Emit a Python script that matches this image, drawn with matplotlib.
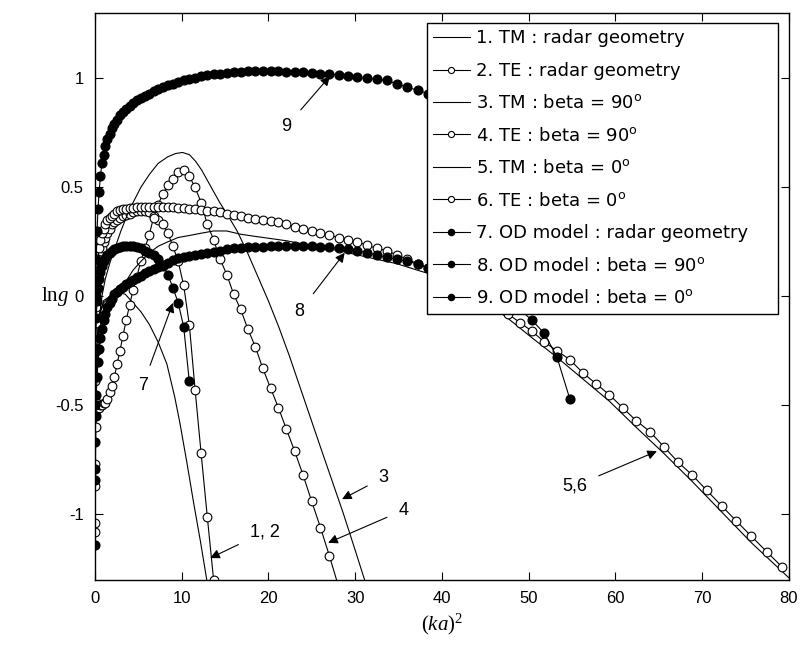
import matplotlib
matplotlib.use('Agg')
from matplotlib import pyplot as plt

plt.rcParams['font.family'] = ['Liberation Sans', 'DejaVu Sans']
plt.rcParams['mathtext.default'] = 'regular'
plt.rcParams['mathtext.fontset'] = 'custom'
plt.rcParams['mathtext.rm'] = 'Liberation Serif'
plt.rcParams['mathtext.it'] = 'Liberation Serif:italic'

# (ka)^2 sample points used by the marker curves
ka2 = [0.01, 0.04, 0.09, 0.16, 0.25, 0.36, 0.49, 0.64, 0.81, 1.0,
       1.21, 1.44, 1.69, 1.96, 2.25, 2.56, 2.89, 3.24, 3.61, 4.0,
       4.41, 4.84, 5.29, 5.76, 6.25, 6.76, 7.29, 7.84, 8.41, 9.0,
       9.61, 10.24, 10.89, 11.56, 12.25, 12.96, 13.69, 14.44, 15.21, 16.0,
       16.81, 17.64, 18.49, 19.36, 20.25, 21.16, 22.09, 23.04, 24.01, 25.0,
       26.01, 27.04, 28.09, 29.16, 30.25, 31.36, 32.49, 33.64, 34.81, 36.0,
       37.21, 38.44, 39.69, 40.96, 42.25, 43.56, 44.89, 46.24, 47.61, 49.0,
       50.41, 51.84, 53.29, 54.76, 56.25, 57.76, 59.29, 60.84, 62.41, 64.0,
       65.61, 67.24, 68.89, 70.56, 72.25, 73.96, 75.69, 77.44, 79.21]

# 1. TM radar geometry (line)
x1 = [0.01, 0.09, 0.25, 0.49, 1.0, 1.7, 2.5, 3.5, 4.4, 5.3, 6.3, 7.3, 8.3, 9.2, 9.8,
      10.6, 11.4, 12.2, 12.9]
y1 = [-1.25, -0.6, -0.25, -0.1, -0.02, 0.0, 0.02, 0.01, -0.03, -0.07, -0.13, -0.21,
      -0.31, -0.46, -0.58, -0.76, -0.95, -1.13, -1.3]
# 2. TE radar geometry (circles)
y2 = [-1.04, -0.45, -0.2, -0.05, 0.04, 0.1, 0.15, 0.19, 0.22, 0.25,
      0.27, 0.29, 0.31, 0.33, 0.34, 0.35, 0.36, 0.37, 0.375, 0.38,
      0.385, 0.39, 0.39, 0.39, 0.385, 0.37, 0.35, 0.33, 0.29, 0.23,
      0.16, 0.05, -0.13, -0.43, -0.72, -1.01, -1.3]
# 3. TM beta = 90 (line)
x3 = [0.01, 0.09, 0.25, 0.49, 0.81, 1.2, 1.7, 2.3, 3.0, 3.7, 4.4, 5.3, 6.3, 7.3, 8.4,
      9.3, 10.1, 10.9, 11.6, 12.3, 13.0, 13.7, 14.4, 15.2, 16.4, 17.6, 18.8, 20.0,
      21.2, 22.4, 23.6, 24.8, 26.0, 27.3, 28.6, 29.9, 31.1]
y3 = [-1.1, -0.55, -0.3, -0.12, 0.0, 0.08, 0.15, 0.22, 0.3, 0.37, 0.43, 0.5, 0.56,
      0.61, 0.64, 0.655, 0.66, 0.65, 0.62, 0.58, 0.53, 0.48, 0.43, 0.38, 0.30, 0.2,
      0.09, -0.02, -0.14, -0.27, -0.41, -0.55, -0.69, -0.84, -0.99, -1.15, -1.3]
# 4. TE beta = 90 (circles)
y4 = [-1.08, -0.77, -0.6, -0.52, -0.49, -0.5, -0.51, -0.5, -0.5, -0.49,
      -0.49, -0.47, -0.44, -0.41, -0.37, -0.31, -0.25, -0.18, -0.11, -0.04,
      0.03, 0.09, 0.16, 0.22, 0.28, 0.36, 0.42, 0.47, 0.51, 0.54,
      0.57, 0.58, 0.55, 0.5, 0.43, 0.33, 0.26, 0.17, 0.1, 0.01,
      -0.06, -0.15, -0.23, -0.33, -0.42, -0.51, -0.61, -0.71, -0.82, -0.94,
      -1.06, -1.19, -1.33]
# 5. TM beta = 0 (line)
x5 = [0.01, 0.09, 0.25, 0.49, 1.0, 1.5, 2.3, 2.9, 3.6, 4.4, 5.3, 6.3, 7.3, 8.4, 9.6,
      11.0, 12.3, 13.7, 15.2, 16.8, 18.5, 20.3, 22.1, 24.0, 26.0, 28.1, 30.3, 32.5,
      34.8, 37.2, 39.7, 42.3, 44.9, 47.6, 50.4, 53.3, 56.3, 59.3, 62.4, 65.6, 68.9,
      72.3, 75.7, 79.2, 80.0]
y5 = [-0.95, -0.45, -0.2, -0.08, -0.03, -0.01, 0.0, 0.03, 0.07, 0.12, 0.16, 0.2, 0.23,
      0.25, 0.27, 0.28, 0.29, 0.30, 0.30, 0.285, 0.275, 0.265, 0.255, 0.24, 0.225,
      0.21, 0.19, 0.17, 0.15, 0.12, 0.09, 0.04, -0.02, -0.10, -0.19, -0.28, -0.38,
      -0.48, -0.60, -0.72, -0.85, -0.99, -1.13, -1.26, -1.29]
# 6. TE beta = 0 (circles)
y6 = [-0.87, -0.39, -0.12, 0.02, 0.11, 0.17, 0.22, 0.26, 0.29, 0.31,
      0.33, 0.35, 0.36, 0.37, 0.38, 0.39, 0.395, 0.40, 0.40, 0.405,
      0.405, 0.41, 0.41, 0.41, 0.41, 0.41, 0.41, 0.41, 0.41, 0.41,
      0.405, 0.405, 0.40, 0.40, 0.395, 0.39, 0.39, 0.385, 0.38, 0.375,
      0.37, 0.36, 0.355, 0.35, 0.345, 0.34, 0.33, 0.32, 0.31, 0.30,
      0.29, 0.28, 0.27, 0.26, 0.25, 0.235, 0.22, 0.21, 0.19, 0.17,
      0.15, 0.13, 0.11, 0.09, 0.07, 0.04, 0.01, -0.03, -0.08, -0.12,
      -0.16, -0.21, -0.25, -0.29, -0.35, -0.40, -0.45, -0.51, -0.57, -0.62,
      -0.69, -0.76, -0.82, -0.89, -0.96, -1.03, -1.10, -1.17, -1.24]
# 7. OD model radar geometry (dots)
y7 = [-1.14, -0.5, -0.25, -0.1, -0.02, 0.04, 0.08, 0.11, 0.14, 0.16,
      0.175, 0.19, 0.2, 0.21, 0.215, 0.22, 0.225, 0.23, 0.23, 0.23,
      0.23, 0.225, 0.22, 0.21, 0.2, 0.19, 0.17, 0.14, 0.10, 0.04,
      -0.03, -0.14, -0.39]
# 8. OD model beta = 90 (dots)
y8 = [-0.84, -0.67, -0.55, -0.45, -0.37, -0.3, -0.24, -0.19, -0.15, -0.11,
      -0.08, -0.05, -0.03, -0.01, 0.01, 0.02, 0.035, 0.045, 0.055, 0.065,
      0.075, 0.085, 0.095, 0.105, 0.115, 0.125, 0.135, 0.145, 0.155, 0.165,
      0.175, 0.18, 0.185, 0.19, 0.195, 0.20, 0.205, 0.21, 0.215, 0.22,
      0.22, 0.225, 0.225, 0.225, 0.23, 0.23, 0.23, 0.23, 0.23, 0.23,
      0.225, 0.225, 0.22, 0.215, 0.21, 0.20, 0.19, 0.18, 0.17, 0.16,
      0.15, 0.13, 0.12, 0.10, 0.08, 0.06, 0.03, 0.0, -0.03, -0.06,
      -0.11, -0.17, -0.28, -0.47]
# 9. OD model beta = 0 (dots)
y9 = [-0.79, -0.3, 0.0, 0.17, 0.3, 0.4, 0.48, 0.55, 0.61, 0.65,
      0.69, 0.72, 0.745, 0.77, 0.79, 0.81, 0.83, 0.845, 0.86, 0.875,
      0.885, 0.9, 0.91, 0.92, 0.93, 0.94, 0.95, 0.96, 0.97, 0.975,
      0.985, 0.99, 0.995, 1.0, 1.01, 1.015, 1.02, 1.02, 1.025, 1.03,
      1.03, 1.035, 1.035, 1.035, 1.035, 1.035, 1.03, 1.03, 1.03, 1.025,
      1.02, 1.02, 1.015, 1.01, 1.005, 1.0, 0.995, 0.99, 0.975, 0.96,
      0.945, 0.93, 0.91, 0.89, 0.86, 0.83]

labels = ['1. TM : radar geometry', '2. TE : radar geometry',
          '3. TM : beta = 90$^{o}$', '4. TE : beta = 90$^{o}$',
          '5. TM : beta = 0$^{o}$', '6. TE : beta = 0$^{o}$',
          '7. OD model : radar geometry', '8. OD model : beta = 90$^{o}$',
          '9. OD model : beta = 0$^{o}$']

# annotation text, text position, arrow tip
notes = [('9', (22.1, 0.78), (27.1, 1.01)),
         ('8', (23.6, -0.07), (28.8, 0.20)),
         ('7', (5.5, -0.41), (9.0, -0.03)),
         ('1, 2', (19.6, -1.08), (13.3, -1.20)),
         ('3', (33.3, -0.83), (28.5, -0.93)),
         ('4', (35.6, -0.98), (26.9, -1.13)),
         ('5,6', (55.3, -0.87), (64.8, -0.71))]

fig = plt.figure(figsize=(8.04, 6.45), dpi=100)
ax = fig.add_axes([0.118, 0.101, 0.863, 0.879])

lw = 0.8
ms = 6.3
open_kw = dict(color='k', lw=lw, marker='o', ms=ms, mfc='white', mec='k', mew=0.8)
fill_kw = dict(color='k', lw=lw, marker='o', ms=ms, mfc='k', mec='k')

ax.plot(x1, y1, color='k', lw=lw, label=labels[0])
ax.plot(ka2[:len(y2)], y2, label=labels[1], **open_kw)
ax.plot(x3, y3, color='k', lw=lw, label=labels[2])
ax.plot(ka2[:len(y4)], y4, label=labels[3], **open_kw)
ax.plot(x5, y5, color='k', lw=lw, label=labels[4])
ax.plot(ka2[:len(y6)], y6, label=labels[5], **open_kw)
ax.plot(ka2[:len(y7)], y7, label=labels[6], **fill_kw)
ax.plot(ka2[:len(y8)], y8, label=labels[7], **fill_kw)
ax.plot(ka2[:len(y9)], y9, label=labels[8], **fill_kw)

for txt, xy_t, xy_h in notes:
    ax.annotate(txt, xy=xy_h, xytext=xy_t, fontsize=13, ha='center', va='center',
                arrowprops=dict(arrowstyle='-|>', color='k', lw=0.8,
                                mutation_scale=14, shrinkA=7, shrinkB=0))

ax.set_xlim(0, 80)
ax.set_ylim(-1.3, 1.3)
ax.set_xticks(range(0, 81, 10))
ax.set_yticks([-1, -0.5, 0, 0.5, 1])
ax.set_yticklabels(['-1', '-0.5', '0', '0.5', '1'])
ax.tick_params(direction='in', top=True, right=True, length=6, width=0.8,
               labelsize=12, pad=8)
for s in ax.spines.values():
    s.set_linewidth(1.0)

ax.set_xlabel(r'$\mathit{(ka)}^{\mathrm{2}}$', fontsize=15, labelpad=4)
ax.set_ylabel(r'$\mathrm{ln}\mathit{g}$', fontsize=15, rotation=0, va='center', ha='center')
ax.yaxis.set_label_coords(-0.057, 0.5)

leg = ax.legend(loc='upper left', bbox_to_anchor=(0.478, 0.5, 0.506, 0.483),
                mode='expand', borderaxespad=0,
                prop={'family': 'DejaVu Sans', 'size': 13},
                frameon=True, fancybox=False, framealpha=1,
                edgecolor='k', labelspacing=0.8, handlelength=2.0,
                handletextpad=0.35, borderpad=0.38, markerscale=0.7)
leg.get_frame().set_linewidth(1.0)
leg.set_zorder(10)

plt.savefig('out.png', dpi=100)
plt.close()
